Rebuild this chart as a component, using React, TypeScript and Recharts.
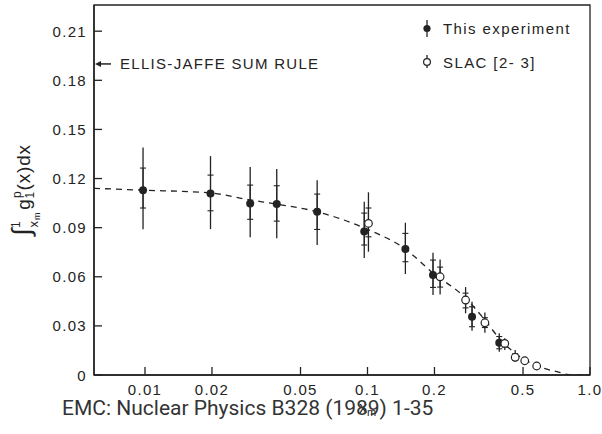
import React from 'react';
import {
  ComposedChart,
  Scatter,
  Line,
  XAxis,
  YAxis,
  ErrorBar,
  ReferenceArea,
  ReferenceDot,
  Legend,
} from 'recharts';

const INK = '#232323';
const FONT = '"Liberation Sans", Arial, sans-serif';

// axis ranges & ticks
const X_MIN = 0.0059;
const X_MAX = 1.0;
const Y_MAX = 0.226;
const xTicks = [0.01, 0.02, 0.05, 0.1, 0.2, 0.5, 1.0];
const xTickLabels = ['0.01', '0.02', '0.05', '0.1', '0.2', '0.5', '1.0'];
const yTicks = [0, 0.03, 0.06, 0.09, 0.12, 0.15, 0.18, 0.21];
const yTickLabels = ['0', '0.03', '0.06', '0.09', '0.12', '0.15', '0.18', '0.21'];

// EMC ("This experiment")
const emcX = [0.0098, 0.0197, 0.0297, 0.0391, 0.0594, 0.0967, 0.148, 0.197, 0.295, 0.391];
const emcY = [0.1129, 0.1109, 0.1048, 0.1044, 0.0997, 0.0876, 0.0769, 0.0611, 0.0356, 0.0197];
const emcTotHi = [0.139, 0.1337, 0.127, 0.1258, 0.119, 0.1058, 0.093, 0.0747, 0.0447, 0.0255];
const emcTotLo = [0.0891, 0.0891, 0.0842, 0.0835, 0.0794, 0.0714, 0.0617, 0.0488, 0.027, 0.0142];
const emcStatHi = [0.1264, 0.1221, 0.116, 0.1156, 0.1105, 0.0989, 0.0865, 0.0702, 0.0417, 0.0235];
const emcStatLo = [0.102, 0.1003, 0.0951, 0.094, 0.0889, 0.0794, 0.0692, 0.0535, 0.0295, 0.016];

// SLAC [2-3]
const slacX = [0.101, 0.212, 0.276, 0.337, 0.414, 0.461, 0.509, 0.576];
const slacY = [0.0926, 0.06, 0.0458, 0.0319, 0.0193, 0.0108, 0.0087, 0.0055];
const slacTotHi = [0.1116, 0.0706, 0.0537, 0.0381, 0.0224, 0.0153, 0.0087, 0.0055];
const slacTotLo = [0.0753, 0.0491, 0.0377, 0.0258, 0.0153, 0.0081, 0.0087, 0.0055];
const slacStatHi = [0.102, 0.0659, 0.05, 0.035, 0.021, 0.013, 0.0087, 0.0055];
const slacStatLo = [0.0844, 0.0537, 0.041, 0.029, 0.017, 0.009, 0.0087, 0.0055];

// dashed fit curve
const curveX = [0.0059, 0.0098, 0.0197, 0.0295, 0.039, 0.059, 0.097, 0.148, 0.197, 0.276, 0.337, 0.39, 0.46, 0.58, 0.71, 0.83, 1.0];
const curveY = [0.114, 0.1129, 0.1112, 0.107, 0.1044, 0.0998, 0.0897, 0.0769, 0.0623, 0.047, 0.0336, 0.0226, 0.0134, 0.0055, 0.002, 0.0, 0.0];

const ELLIS_JAFFE = 0.19;

const emcData = emcX.map((x, i) => ({
  x,
  y: emcY[i],
  tot: [emcY[i] - emcTotLo[i], emcTotHi[i] - emcY[i]],
  stat: [emcY[i] - emcStatLo[i], emcStatHi[i] - emcY[i]],
}));
const slacData = slacX.map((x, i) => ({
  x,
  y: slacY[i],
  tot: [slacY[i] - slacTotLo[i], slacTotHi[i] - slacY[i]],
  stat: [slacY[i] - slacStatLo[i], slacStatHi[i] - slacY[i]],
}));
const curveData = curveX.map((x, i) => ({ x, y: curveY[i] }));

const labelFor = (vals: number[], labels: string[], v: number) => {
  let best = 0;
  vals.forEach((t, i) => {
    if (Math.abs(t - v) < Math.abs(vals[best] - v)) best = i;
  });
  return labels[best];
};

const XTick = (props: any) => {
  const { x, y, payload } = props;
  return (
    <g>
      <line x1={x} x2={x} y1={y} y2={y - 8} stroke={INK} strokeWidth={1.3} />
      <text x={x} y={y + 20} textAnchor="middle" fontFamily={FONT} fontSize={15} letterSpacing={1.3} fill={INK}>
        {labelFor(xTicks, xTickLabels, payload.value)}
      </text>
    </g>
  );
};

const YTick = (props: any) => {
  const { x, y, payload } = props;
  return (
    <g>
      <line x1={x} x2={x + 8} y1={y} y2={y} stroke={INK} strokeWidth={1.3} />
      <text x={x - 7} y={y + 5.5} textAnchor="end" fontFamily={FONT} fontSize={15} letterSpacing={1.3} fill={INK}>
        {labelFor(yTicks, yTickLabels, payload.value)}
      </text>
    </g>
  );
};

const YLabel = (props: any) => {
  const vb = props.viewBox || { x: 0, y: 5, width: 94, height: 370 };
  const cx = vb.x + 30;
  const cy = vb.y + vb.height / 2;
  return (
    <text
      x={cx}
      y={cy}
      transform={`rotate(-90, ${cx}, ${cy})`}
      textAnchor="middle"
      fontFamily={FONT}
      fontSize={19}
      letterSpacing={0.8}
      fill={INK}
    >
      <tspan fontSize={26}>∫</tspan>
      <tspan fontSize={12} dy={-10}>1</tspan>
      <tspan fontSize={13} dx={-7} dy={18}>x</tspan>
      <tspan fontSize={9} dy={2}>m</tspan>
      <tspan dx={2} dy={-10}>g</tspan>
      <tspan fontSize={12} dy={4}>1</tspan>
      <tspan fontSize={12} dx={-7} dy={-13}>p</tspan>
      <tspan dy={9}>(x)dx</tspan>
    </text>
  );
};

const FilledDot = (p: any) => <circle cx={p.cx} cy={p.cy} r={4} fill={INK} />;
const OpenDot = (p: any) => (
  <circle cx={p.cx} cy={p.cy} r={3.8} fill="#fff" stroke={INK} strokeWidth={1.2} />
);

const LegendBox = () => (
  <svg width={180} height={64} style={{ display: 'block' }}>
    <line x1={12} x2={12} y1={8} y2={25} stroke={INK} strokeWidth={1.3} />
    <circle cx={12} cy={16.5} r={3.6} fill={INK} />
    <text x={28} y={22} fontFamily={FONT} fontSize={15} letterSpacing={1.4} fill={INK}>
      This experiment
    </text>
    <line x1={12} x2={12} y1={43} y2={56} stroke={INK} strokeWidth={1.3} />
    <circle cx={12} cy={50} r={3.4} fill="#fff" stroke={INK} strokeWidth={1.2} />
    <text x={28} y={55.5} fontFamily={FONT} fontSize={15} letterSpacing={1.4} fill={INK}>
      SLAC [2- 3]
    </text>
  </svg>
);

const EllisJaffe = (p: any) => {
  const { cx, cy } = p;
  return (
    <g>
      <line x1={cx + 4} x2={cx + 17} y1={cy} y2={cy} stroke={INK} strokeWidth={1.5} />
      <polygon points={`${cx + 1},${cy} ${cx + 7},${cy - 3} ${cx + 7},${cy + 3}`} fill={INK} />
      <text x={cx + 26} y={cy + 5.5} fontFamily={FONT} fontSize={15} letterSpacing={1.3} fill={INK}>
        ELLIS-JAFFE SUM RULE
      </text>
    </g>
  );
};

const XmLabel = (p: any) => {
  const { cx, cy } = p;
  return (
    <text x={cx} y={cy + 38} textAnchor="middle" fontFamily={FONT} fontSize={16} fill={INK}>
      x<tspan fontSize={11} dy={3}>m</tspan>
    </text>
  );
};

export default function App() {
  return (
    <div style={{ position: 'absolute', left: 0, top: 0, width: 602, height: 434, background: '#fff' }}>
      <ComposedChart width={602} height={434} margin={{ top: 5, right: 12, bottom: 29, left: 0 }}>
        <XAxis
          dataKey="x"
          type="number"
          scale="log"
          domain={[X_MIN, X_MAX]}
          allowDataOverflow
          ticks={xTicks}
          interval={0}
          tickSize={0}
          tickMargin={0}
          tickLine={false}
          tick={<XTick />}
          axisLine={{ stroke: INK, strokeWidth: 1.5 }}
          height={30}
        />
        <YAxis
          dataKey="y"
          type="number"
          domain={[0, Y_MAX]}
          allowDataOverflow
          ticks={yTicks}
          interval={0}
          tickSize={0}
          tickMargin={0}
          tickLine={false}
          tick={<YTick />}
          axisLine={{ stroke: INK, strokeWidth: 1.5 }}
          width={94}
          label={<YLabel />}
        />
        <ReferenceArea
          x1={X_MIN}
          x2={X_MAX}
          y1={0}
          y2={Y_MAX}
          fill="none"
          fillOpacity={0}
          stroke={INK}
          strokeWidth={1.3}
          ifOverflow="visible"
        />
        <Line
          data={curveData}
          dataKey="y"
          type="monotone"
          dot={false}
          activeDot={false}
          stroke={INK}
          strokeWidth={1.3}
          strokeDasharray="6 5"
          isAnimationActive={false}
        />
        <Scatter data={emcData} name="This experiment" shape={<FilledDot />} isAnimationActive={false}>
          <ErrorBar dataKey="tot" direction="y" width={0} stroke={INK} strokeWidth={1.3} isAnimationActive={false} />
          <ErrorBar dataKey="stat" direction="y" width={3} stroke={INK} strokeWidth={1.1} isAnimationActive={false} />
        </Scatter>
        <Scatter data={slacData} name="SLAC [2- 3]" shape={<OpenDot />} isAnimationActive={false}>
          <ErrorBar dataKey="tot" direction="y" width={0} stroke={INK} strokeWidth={1.3} isAnimationActive={false} />
          <ErrorBar dataKey="stat" direction="y" width={3} stroke={INK} strokeWidth={1.1} isAnimationActive={false} />
        </Scatter>
        <ReferenceDot x={X_MIN} y={ELLIS_JAFFE} r={0} shape={<EllisJaffe />} ifOverflow="visible" />
        <ReferenceDot x={0.1} y={0} r={0} shape={<XmLabel />} ifOverflow="visible" />
        <Legend
          layout="horizontal"
          align="center"
          verticalAlign="middle"
          content={() => <LegendBox />}
          wrapperStyle={{ position: 'absolute', left: 415, top: 12, width: 180, height: 64 }}
        />
      </ComposedChart>
      <div
        style={{
          position: 'absolute',
          left: 62,
          top: 396,
          fontFamily: 'Roboto, sans-serif',
          fontSize: 21,
          color: '#333',
          whiteSpace: 'nowrap',
          lineHeight: '24px',
        }}
      >
        EMC: Nuclear Physics B328 (1989) 1-35
      </div>
    </div>
  );
}
